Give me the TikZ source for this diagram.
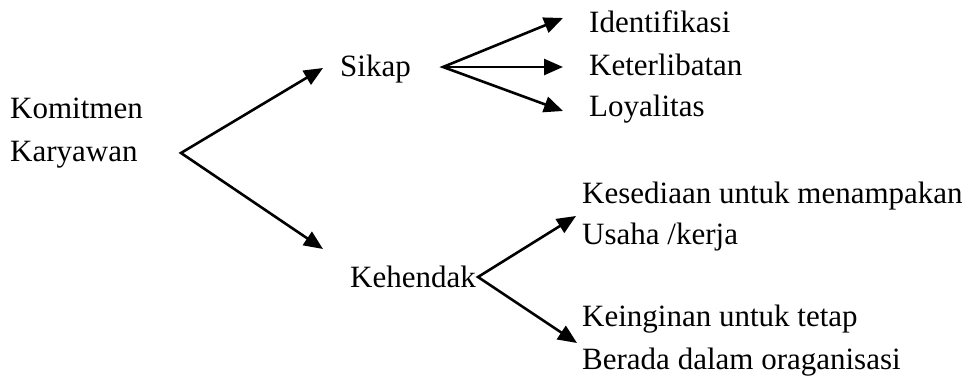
\documentclass[tikz,border=0pt]{standalone}
\usepackage{fontspec}
\setmainfont{Liberation Serif}[Ligatures=NoCommon]
\usetikzlibrary{arrows.meta}
\begin{document}
\begin{tikzpicture}[x=1pt,y=-1pt,
  lbl/.style={anchor=base west,inner sep=0pt,font=\fontsize{31}{42}\selectfont},
  >={Triangle[length=19pt,width=16pt]},
  ln/.style={line width=2.6pt}]
\useasboundingbox (0,0) rectangle (979,377);
\node[lbl] (kom) at (10,118) {Komitmen};
\node[lbl] (kar) at (10,161) {Karyawan};
\node[lbl] (sik) at (340,77) {Sikap};
\node[lbl] (keh) at (350,287) {Kehendak};
\node[lbl] (ide) at (589,33) {Identifikasi};
\node[lbl] (ket) at (589,76) {Keterlibatan};
\node[lbl] (loy) at (589,117) {Loyalitas};
\node[lbl] (kes) at (582,203) {Kesediaan untuk menampakan};
\node[lbl] (usa) at (582,244) {Usaha /kerja};
\node[lbl] (kei) at (582,326) {Keinginan untuk tetap};
\node[lbl] (ber) at (582,369) {Berada dalam oraganisasi};
\coordinate (v0) at (181,153);
\coordinate (t1) at (323,68);
\coordinate (t2) at (323,249);
\coordinate (v1) at (443,67);
\coordinate (t11) at (563,18);
\coordinate (t12) at (563,67);
\coordinate (t13) at (563,111);
\coordinate (v2) at (478,277);
\coordinate (t21) at (576,216);
\coordinate (t22) at (577,343);
\draw[ln,<->] (t1) -- (v0) -- (t2);
\draw[ln,<->] (t11) -- (v1) -- (t13);
\draw[ln,->] (v1) -- (t12);
\draw[ln,<->] (t21) -- (v2) -- (t22);
\end{tikzpicture}
\end{document}
